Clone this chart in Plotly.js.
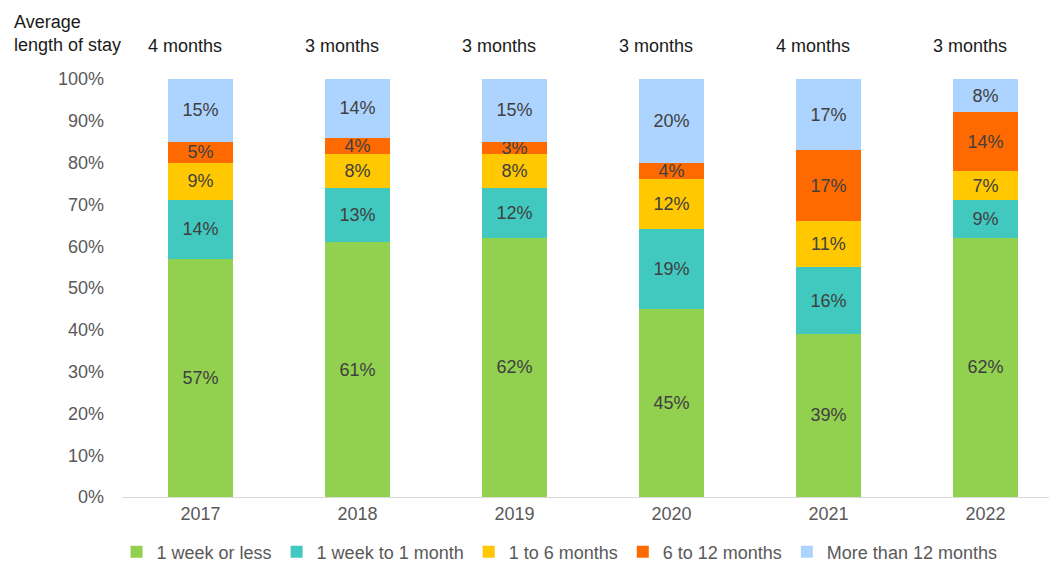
<!DOCTYPE html>
<html>
<head>
<meta charset="utf-8">
<script src="https://cdn.plot.ly/plotly-3.0.1.min.js"></script>
<style>html,body{margin:0;padding:0;background:#fff;}#chart{width:1049px;height:563px;}</style>
</head>
<body>
<div id="chart"></div>
<script>
const years = ['2017', '2018', '2019', '2020', '2021', '2022'];
const avgStay = ['4 months', '3 months', '3 months', '3 months', '4 months', '3 months'];
const seriesNames = ['1 week or less', '1 week to 1 month', '1 to 6 months', '6 to 12 months', 'More than 12 months'];
const weekOrLess = [57, 61, 62, 45, 39, 62];
const weekToMonth = [14, 13, 12, 19, 16, 9];
const oneToSix = [9, 8, 8, 12, 11, 7];
const sixToTwelve = [5, 4, 3, 4, 17, 14];
const moreThanTwelve = [15, 14, 15, 20, 17, 8];
const colors = ['#92D050', '#41C9C0', '#FFC800', '#FF6A00', '#ADD4FF'];

const allSeries = [weekOrLess, weekToMonth, oneToSix, sixToTwelve, moreThanTwelve];
const font = 'Liberation Sans, Arial, sans-serif';

const traces = allSeries.map((vals, i) => ({
  type: 'bar',
  name: seriesNames[i],
  x: years,
  y: vals,
  width: 0.41,
  marker: {color: colors[i], line: {width: 0}},
  text: vals.map(v => v + '%'),
  textposition: 'inside',
  insidetextanchor: 'middle',
  constraintext: 'none',
  textfont: {family: font, size: 18, color: '#404040'},
  hoverinfo: 'none'
}));

const annotations = years.map((yr, i) => ({
  x: i, xref: 'x', y: 1.079, yref: 'paper', xshift: -15,
  text: avgStay[i], showarrow: false,
  xanchor: 'center', yanchor: 'middle',
  font: {family: font, size: 18, color: '#1a1a1a'}
}));
annotations.push({
  x: -0.1187, xref: 'paper', y: 1.108, yref: 'paper',
  text: 'Average<br>length of stay', showarrow: false,
  align: 'left', xanchor: 'left', yanchor: 'middle',
  font: {family: font, size: 18, color: '#1a1a1a'}
});

const layout = {
  width: 1049, height: 563,
  margin: {l: 122, r: 0, t: 79, b: 66, autoexpand: false},
  barmode: 'stack',
  paper_bgcolor: '#fff', plot_bgcolor: '#fff',
  showlegend: true,
  legend: {
    orientation: 'h', x: 0.472, xanchor: 'center',
    yref: 'paper', y: -0.1316, yanchor: 'middle',
    font: {family: font, size: 18, color: '#595959'},
    itemwidth: 30, traceorder: 'normal'
  },
  xaxis: {
    type: 'category', range: [-0.5, 5.405],
    showline: true, linecolor: '#d9d9d9', linewidth: 1,
    showgrid: false, zeroline: false, ticks: '',
    automargin: false,
    tickfont: {family: font, size: 18, color: '#595959'}
  },
  yaxis: {
    range: [0, 100], dtick: 10, ticksuffix: '%',
    showgrid: false, zeroline: false, showline: false, ticks: '',
    automargin: false,
    ticklabelstandoff: 17,
    tickfont: {family: font, size: 18, color: '#595959'}
  },
  annotations: annotations
};

Plotly.newPlot('chart', traces, layout, {displayModeBar: false, staticPlot: true});
</script>
</body>
</html>
